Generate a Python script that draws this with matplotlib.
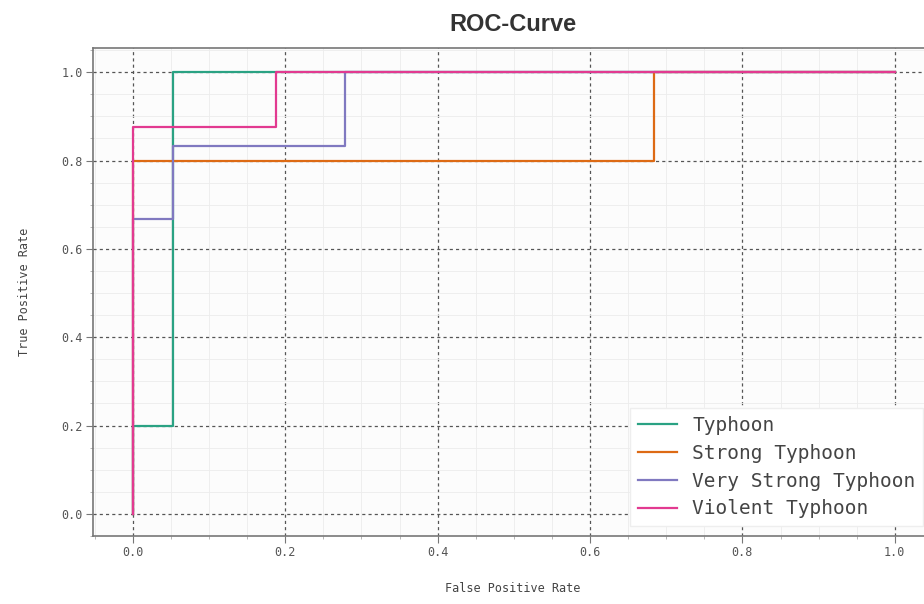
import matplotlib
matplotlib.use("Agg")
import matplotlib.pyplot as plt
from matplotlib.ticker import MultipleLocator

# ROC step curves (false positive rate, true positive rate) per class
CLASSES = ["Typhoon", "Strong Typhoon", "Very Strong Typhoon", "Violent Typhoon"]
FPR_TYPHOON = [0.0, 0.0, 0.053, 0.053, 1.0]
TPR_TYPHOON = [0.0, 0.2, 0.2, 1.0, 1.0]
FPR_STRONG = [0.0, 0.0, 0.684, 0.684, 1.0]
TPR_STRONG = [0.0, 0.8, 0.8, 1.0, 1.0]
FPR_VSTRONG = [0.0, 0.0, 0.053, 0.053, 0.278, 0.278, 1.0]
TPR_VSTRONG = [0.0, 0.667, 0.667, 0.833, 0.833, 1.0, 1.0]
FPR_VIOLENT = [0.0, 0.0, 0.188, 0.188, 1.0]
TPR_VIOLENT = [0.0, 0.875, 0.875, 1.0, 1.0]

COLORS = ["#2aa283", "#dd6a14", "#8079c0", "#e23a90"]
MONO = ["DejaVu Sans Mono"]

fig = plt.figure(figsize=(9.24, 6.04), dpi=100)
fig.patch.set_facecolor("white")
# axes deliberately runs past the right edge (reference is cropped)
ax = fig.add_axes([0.1006, 0.1126, 0.909, 0.808])
ax.set_facecolor("#fcfcfc")

curves = [(FPR_TYPHOON, TPR_TYPHOON), (FPR_STRONG, TPR_STRONG),
          (FPR_VSTRONG, TPR_VSTRONG), (FPR_VIOLENT, TPR_VIOLENT)]
for (fpr, tpr), name, col in zip(curves, CLASSES, COLORS):
    ax.plot(fpr, tpr, color=col, lw=1.6, label=name, zorder=3)

ax.set_xlim(-0.0525, 1.05)
ax.set_ylim(-0.05, 1.055)
ax.xaxis.set_major_locator(MultipleLocator(0.2))
ax.yaxis.set_major_locator(MultipleLocator(0.2))
ax.xaxis.set_minor_locator(MultipleLocator(0.05))
ax.yaxis.set_minor_locator(MultipleLocator(0.05))
ax.grid(True, which="major", color="#555555", ls=(0, (2.5, 2.5)), lw=0.9, zorder=1)
ax.grid(True, which="minor", color="#ececec", ls="-", lw=0.6, zorder=0)
ax.set_axisbelow(True)

for s in ax.spines.values():
    s.set_color("#777777")
    s.set_linewidth(1.2)
ax.tick_params(which="major", direction="out", length=5, color="#777777",
               labelcolor="#555555", labelsize=8.5, pad=2.5)
ax.tick_params(which="minor", direction="out", length=2.5, color="#aaaaaa")
for lab in ax.get_xticklabels() + ax.get_yticklabels():
    lab.set_fontfamily(MONO)

ax.set_xlabel("False Positive Rate", family=MONO, fontsize=8.5, color="#444444",
              labelpad=16)
ax.set_ylabel("True Positive Rate", family=MONO, fontsize=8.5, color="#444444",
              labelpad=22)
ax.set_title("ROC-Curve", family=["Liberation Sans", "DejaVu Sans"],
             fontweight="bold", fontsize=17, color="#333333", pad=12)

leg = ax.legend(loc="lower right", prop={"family": MONO, "size": 14},
                frameon=True, fancybox=False, handlelength=2.0,
                labelspacing=0.45, borderaxespad=0.5)
leg.get_frame().set_facecolor("white")
leg.get_frame().set_edgecolor("#eeeeee")
leg.get_frame().set_alpha(1.0)
for t in leg.get_texts():
    t.set_color("#444444")

plt.savefig("out.png", dpi=100)
